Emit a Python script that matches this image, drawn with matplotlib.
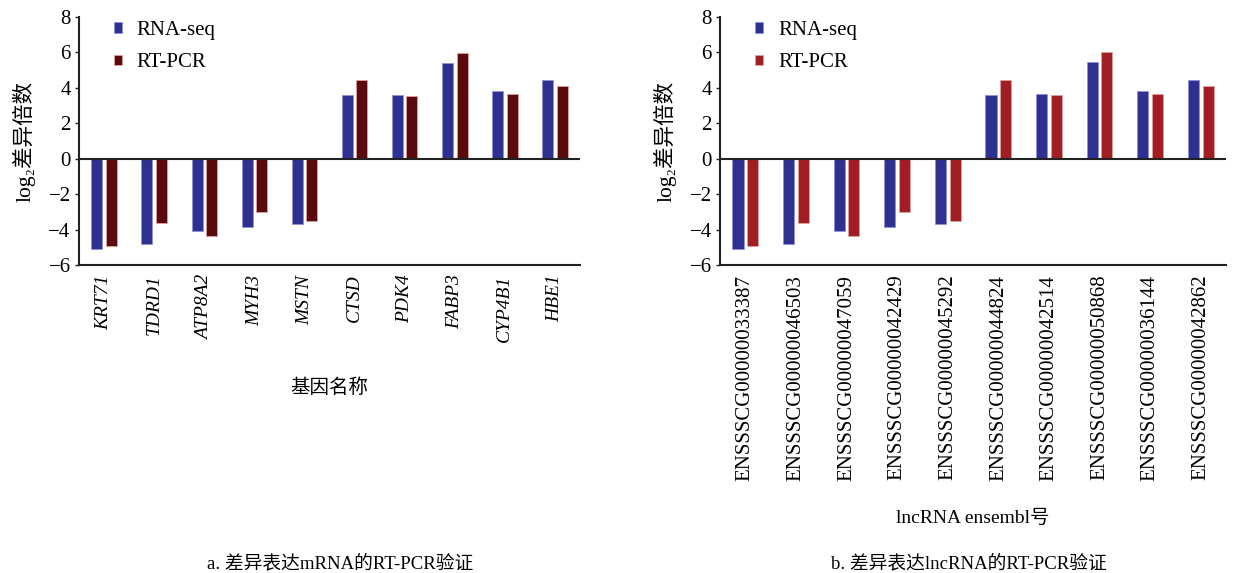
import matplotlib
matplotlib.use("Agg")
import matplotlib.pyplot as plt
import numpy as np

plt.rcParams['font.family'] = ['Liberation Serif', 'Noto Sans CJK SC', 'DejaVu Sans']

# gene / lncRNA names
genes = ['KRT71', 'TDRD1', 'ATP8A2', 'MYH3', 'MSTN', 'CTSD', 'PDK4', 'FABP3', 'CYP4B1', 'HBE1']
lncrnas = ['ENSSSCG00000033387', 'ENSSSCG00000046503', 'ENSSSCG00000047059',
           'ENSSSCG00000042429', 'ENSSSCG00000045292', 'ENSSSCG00000044824',
           'ENSSSCG00000042514', 'ENSSSCG00000050868', 'ENSSSCG00000036144',
           'ENSSSCG00000042862']

# log2 fold change
mrna_seq = [-5.07, -4.84, -4.10, -3.88, -3.68, 3.59, 3.62, 5.43, 3.83, 4.42]
mrna_pcr = [-4.90, -3.63, -4.35, -3.01, -3.54, 4.43, 3.56, 5.99, 3.64, 4.09]
lnc_seq = [-5.07, -4.84, -4.10, -3.88, -3.68, 3.60, 3.66, 5.45, 3.85, 4.44]
lnc_pcr = [-4.90, -3.63, -4.35, -3.01, -3.54, 4.44, 3.58, 6.00, 3.67, 4.12]

blue = '#2e3190'
red_a = '#5a0a0c'
red_b = '#a11e23'

fig = plt.figure(figsize=(12.33, 5.73), dpi=100)
ax1 = fig.add_axes([0.0641, 0.5375, 0.4063, 0.4328])
ax2 = fig.add_axes([0.584, 0.5375, 0.4104, 0.4328])


def draw_panel(ax, names, seq, pcr, red, italic, label_size, xlabel, xlabel_y):
    x = np.arange(len(names))
    w = 0.22
    ax.bar(x - 0.145, seq, width=w, color=blue, edgecolor='#8e93d6', linewidth=0.6,
           label='RNA-seq', zorder=2)
    ax.bar(x + 0.145, pcr, width=w, color=red, edgecolor='#e0a0a0', linewidth=0.6,
           label='RT-PCR', zorder=2)
    ax.axhline(0, color='#222222', linewidth=1.5, zorder=3)

    ax.set_xlim(-0.5, len(names) - 0.5)
    ax.set_ylim(-6, 8)
    ax.set_yticks(range(-6, 9, 2))
    ax.set_yticklabels([str(v).replace('-', '\u2212') for v in range(-6, 9, 2)], fontsize=15)
    ax.set_xticks(x)
    ax.set_xticklabels(names, rotation=90, fontsize=label_size,
                       fontstyle='italic' if italic else 'normal', va='top')
    ax.tick_params(axis='x', length=0, pad=7)
    ax.tick_params(axis='y', length=3, width=1, direction='out', pad=3, color='#222222')

    for s in ['top', 'right']:
        ax.spines[s].set_visible(False)
    for s in ['left', 'bottom']:
        ax.spines[s].set_linewidth(1.5)
        ax.spines[s].set_color('#222222')

    ax.set_ylabel('log\u2082差异倍数', fontsize=15.5, labelpad=9)
    ax.text(0.5, xlabel_y, xlabel, transform=ax.transAxes, ha='center', va='center',
            fontsize=14)

    ax.legend(loc='upper left', bbox_to_anchor=(0.032, 1.06), frameon=False, fontsize=15,
              handlelength=0.4, handleheight=0.4, handletextpad=0.7, labelspacing=0.65)


draw_panel(ax1, genes, mrna_seq, mrna_pcr, red_a, True, 14, '基因名称', -0.496)
draw_panel(ax2, lncrnas, lnc_seq, lnc_pcr, red_b, False, 15, 'lncRNA ensembl号', -1.02)

fig.text(0.276, 0.0175, 'a. 差异表达mRNA的RT-PCR验证', ha='center', va='center', fontsize=13.5)
fig.text(0.786, 0.0175, 'b. 差异表达lncRNA的RT-PCR验证', ha='center', va='center', fontsize=13.5)

fig.savefig('out.png', dpi=100, facecolor='white')
